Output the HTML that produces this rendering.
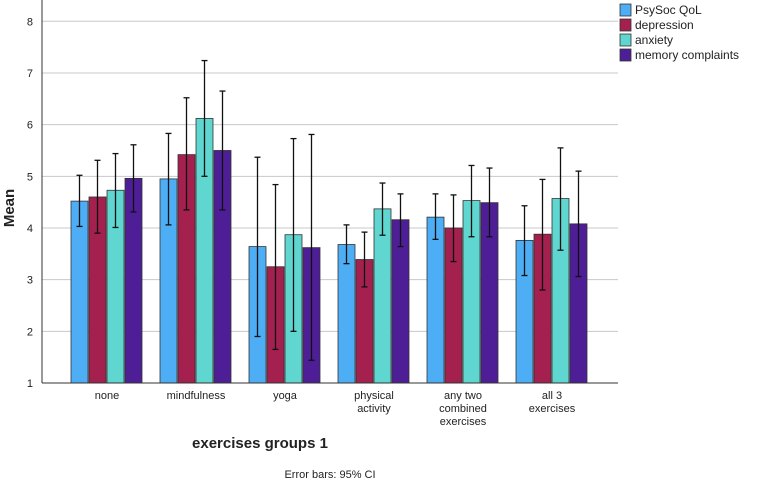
<!DOCTYPE html>
<html><head><meta charset="utf-8"><style>
body{margin:0;background:#fff}
svg{display:block;font-family:"Liberation Sans",sans-serif}
</style></head><body>
<svg id="chart" width="760" height="484"></svg>
<script>
const categories=[["none"],["mindfulness"],["yoga"],["physical","activity"],["any two","combined","exercises"],["all 3","exercises"]];
const seriesNames=["PsySoc QoL","depression","anxiety","memory complaints"];
const colors=["#4daef5","#a3204f","#5fd6cf","#4e1e96"];
const meanQoL=[4.52,4.95,3.64,3.68,4.21,3.76];
const meanDep=[4.60,5.42,3.25,3.39,4.00,3.88];
const meanAnx=[4.73,6.12,3.87,4.37,4.53,4.57];
const meanMem=[4.96,5.50,3.62,4.16,4.49,4.08];
const lowQoL=[4.03,4.06,1.90,3.31,3.78,3.08];
const highQoL=[5.02,5.83,5.37,4.06,4.66,4.43];
const lowDep=[3.90,4.35,1.65,2.86,3.35,2.80];
const highDep=[5.31,6.52,4.84,3.92,4.64,4.94];
const lowAnx=[4.01,5.00,2.00,3.86,3.83,3.57];
const highAnx=[5.44,7.24,5.73,4.87,5.21,5.55];
const lowMem=[4.31,4.35,1.44,3.64,3.83,3.06];
const highMem=[5.61,6.65,5.81,4.66,5.16,5.10];
const yTicks=[1,2,3,4,5,6,7,8];

const means=[meanQoL,meanDep,meanAnx,meanMem];
const lows=[lowQoL,lowDep,lowAnx,lowMem];
const highs=[highQoL,highDep,highAnx,highMem];
const svg=document.getElementById('chart');
const NS='http://www.w3.org/2000/svg';
function mk(t,a,p){const e=document.createElementNS(NS,t);for(const k in a)e.setAttribute(k,a[k]);(p||svg).appendChild(e);return e;}
const x0=42,x1=618,yBase=383,yTop=21.3;
function y(v){return yBase-(v-1)*(yBase-yTop)/7;}
function gx(i){return 107+i*89;}
yTicks.forEach(t=>{
  if(t>1){const l=mk('line',{x1:x0,x2:x1,y1:y(t),y2:y(t),stroke:'#c8c8c8','stroke-width':1});
  
  }
  const tx=mk('text',{x:33,y:y(t)+4,'font-size':11,'text-anchor':'end',fill:'#222'});tx.textContent=t;
  
  
});
categories.forEach((c,i)=>{
  for(let s=0;s<4;s++){
    const bx=gx(i)-36+s*18;
    const r=mk('rect',{x:bx,y:y(means[s][i]),width:17,height:yBase-y(means[s][i]),fill:colors[s],stroke:'#333','stroke-width':0.8});
    
    
    const cx=bx+8.5;
    const g=mk('g',{stroke:'#111','stroke-width':1.3});
    
    
    mk('line',{x1:cx,x2:cx,y1:y(lows[s][i]),y2:y(highs[s][i])},g);
    mk('line',{x1:cx-3,x2:cx+3,y1:y(lows[s][i]),y2:y(lows[s][i])},g);
    mk('line',{x1:cx-3,x2:cx+3,y1:y(highs[s][i]),y2:y(highs[s][i])},g);
  }
  c.forEach((ln,k)=>{const t=mk('text',{x:gx(i),y:399+k*13,'font-size':11,'text-anchor':'middle',fill:'#222'});t.textContent=ln;
  
  });
});
mk('line',{x1:x0,x2:x0,y1:0,y2:yBase,stroke:'#333','stroke-width':1});
mk('line',{x1:x0,x2:x1,y1:yBase,y2:yBase,stroke:'#333','stroke-width':1});
seriesNames.forEach((n,s)=>{
  const r=mk('rect',{x:620,y:4+s*15,width:11,height:12,fill:colors[s],stroke:'#333','stroke-width':0.8});
  
  
  const t=mk('text',{x:635,y:14+s*15,'font-size':12,fill:'#222'});t.textContent=n;
  
  
});
const yt=mk('text',{x:0,y:0,'font-size':15,'font-weight':'bold','text-anchor':'middle',transform:'translate(14,208) rotate(-90)',fill:'#222'});yt.textContent='Mean';


const xt=mk('text',{x:260,y:448,'font-size':15,'font-weight':'bold','text-anchor':'middle',fill:'#222'});xt.textContent='exercises groups 1';


const ft=mk('text',{x:330,y:478,'font-size':11,'text-anchor':'middle',fill:'#222'});ft.textContent='Error bars: 95% CI';


</script>
</body></html>
